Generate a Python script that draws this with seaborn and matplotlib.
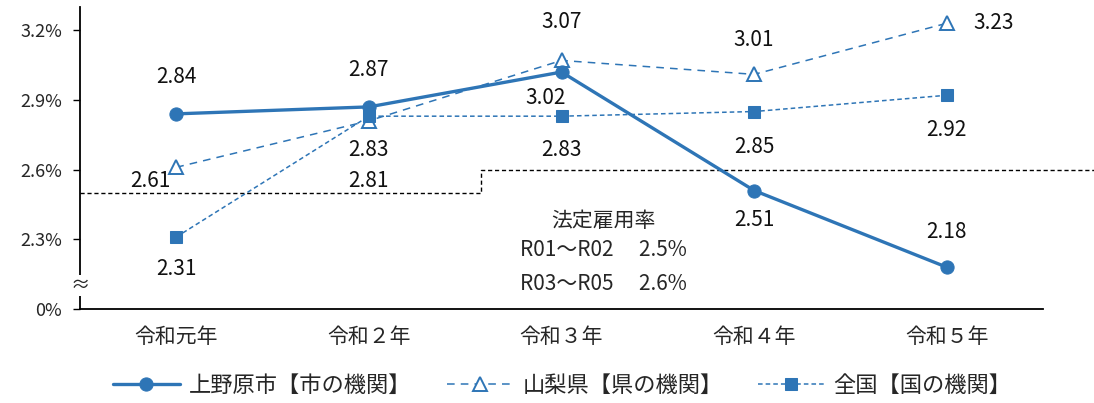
import numpy as np
import pandas as pd
import matplotlib
matplotlib.use("Agg")
import matplotlib.pyplot as plt
import seaborn as sns

years = ["令和元年", "令和２年", "令和３年", "令和４年", "令和５年"]
ueno = [2.84, 2.87, 3.02, 2.51, 2.18]
yama = [2.61, 2.81, 3.07, 3.01, 3.23]
zenkoku = [2.31, 2.83, 2.83, 2.85, 2.92]
legal_x = [-0.5, 1.584, 1.584, 4.77]
legal_y = [2.5, 2.5, 2.6, 2.6]
ytick_vals = [2.0, 2.3, 2.6, 2.9, 3.2]
ytick_labels = ["0%", "2.3%", "2.6%", "2.9%", "3.2%"]

# label offsets in pixels (dx, dy up)
ueno_off = [(0, 37), (0, 37), (-16, -26), (0, -29), (0, 35)]
yama_off = [(-26, -14), (0, -60), (0, 38), (0, 34), (47, 0)]
zen_off = [(0, -32), (0, -34), (0, -34), (0, -35), (0, -35)]

sns.set_style("white")
plt.rcParams['font.family'] = ['Noto Sans CJK JP', 'DejaVu Sans']

blue = "#2E75B6"
x = np.arange(len(years))
df = pd.DataFrame({"x": x, "ueno": ueno, "yama": yama, "zen": zenkoku})

fig = plt.figure(figsize=(10.94, 4.03), dpi=100)
ax = fig.add_axes([80 / 1094, 1 - 309 / 403, (1043 - 80) / 1094, (309 - 7) / 403])

sns.lineplot(data=df, x="x", y="ueno", ax=ax, color=blue, lw=2.4, marker="o",
             markersize=9.5, markeredgecolor=blue, label="上野原市【市の機関】", zorder=5)
sns.lineplot(data=df, x="x", y="yama", ax=ax, color=blue, lw=1.1, marker="^",
             markersize=9.5, markerfacecolor="white", markeredgecolor=blue, markeredgewidth=1.4,
             linestyle=(0, (5, 4)), label="山梨県【県の機関】", zorder=4)
sns.lineplot(data=df, x="x", y="zen", ax=ax, color=blue, lw=1.1, marker="s",
             markersize=9, markeredgecolor=blue, linestyle=(0, (3, 2)),
             label="全国【国の機関】", zorder=4)

ax.plot(legal_x, legal_y, color="black", lw=1, linestyle=(0, (3, 2)), clip_on=False, zorder=2)

for vals, offs in [(ueno, ueno_off), (yama, yama_off), (zenkoku, zen_off)]:
    for i, v in enumerate(vals):
        ax.annotate(f"{v:.2f}", (i, v), xytext=offs[i], textcoords="offset pixels",
                    ha="center", va="center", fontsize=15, color="#111111")

ax.text(2.218, 2.377, "法定雇用率", ha="center", va="center", fontsize=15)
ax.text(2.218, 2.253, "R01～R02　 2.5%", ha="center", va="center", fontsize=15)
ax.text(2.218, 2.107, "R03～R05　 2.6%", ha="center", va="center", fontsize=15)

ax.set_xlim(-0.5, 4.5)
ax.set_ylim(2.0, 3.3)
ax.set_yticks(ytick_vals)
ax.set_yticklabels(ytick_labels, fontsize=13)
ax.set_xticks(x)
ax.set_xticklabels(years, fontsize=15)
ax.set_xticks(np.arange(-0.5, 5, 1), minor=True)
ax.tick_params(axis="x", which="major", length=0, pad=12)
ax.tick_params(axis="x", which="minor", direction="in", length=5, width=1.2, color="black")
ax.tick_params(axis="y", direction="out", length=5, width=1, color="black", left=True, pad=8)
ax.set_xlabel("")
ax.set_ylabel("")

for s in ["top", "right"]:
    ax.spines[s].set_visible(False)
for s in ["left", "bottom"]:
    ax.spines[s].set_color("black")
    ax.spines[s].set_linewidth(1.3)

ax.text(-0.5, 2.1, "≈", ha="center", va="center", fontsize=14,
        bbox=dict(facecolor="white", edgecolor="none", pad=0))

ax.get_legend().remove()
handles, labels = ax.get_legend_handles_labels()
fig.legend(handles, labels, loc="center", bbox_to_anchor=(0.514, 1 - 385 / 403), ncol=3,
           frameon=False, fontsize=16, handlelength=3, columnspacing=1.6, handletextpad=0.4)

fig.savefig("out.png", dpi=100)
